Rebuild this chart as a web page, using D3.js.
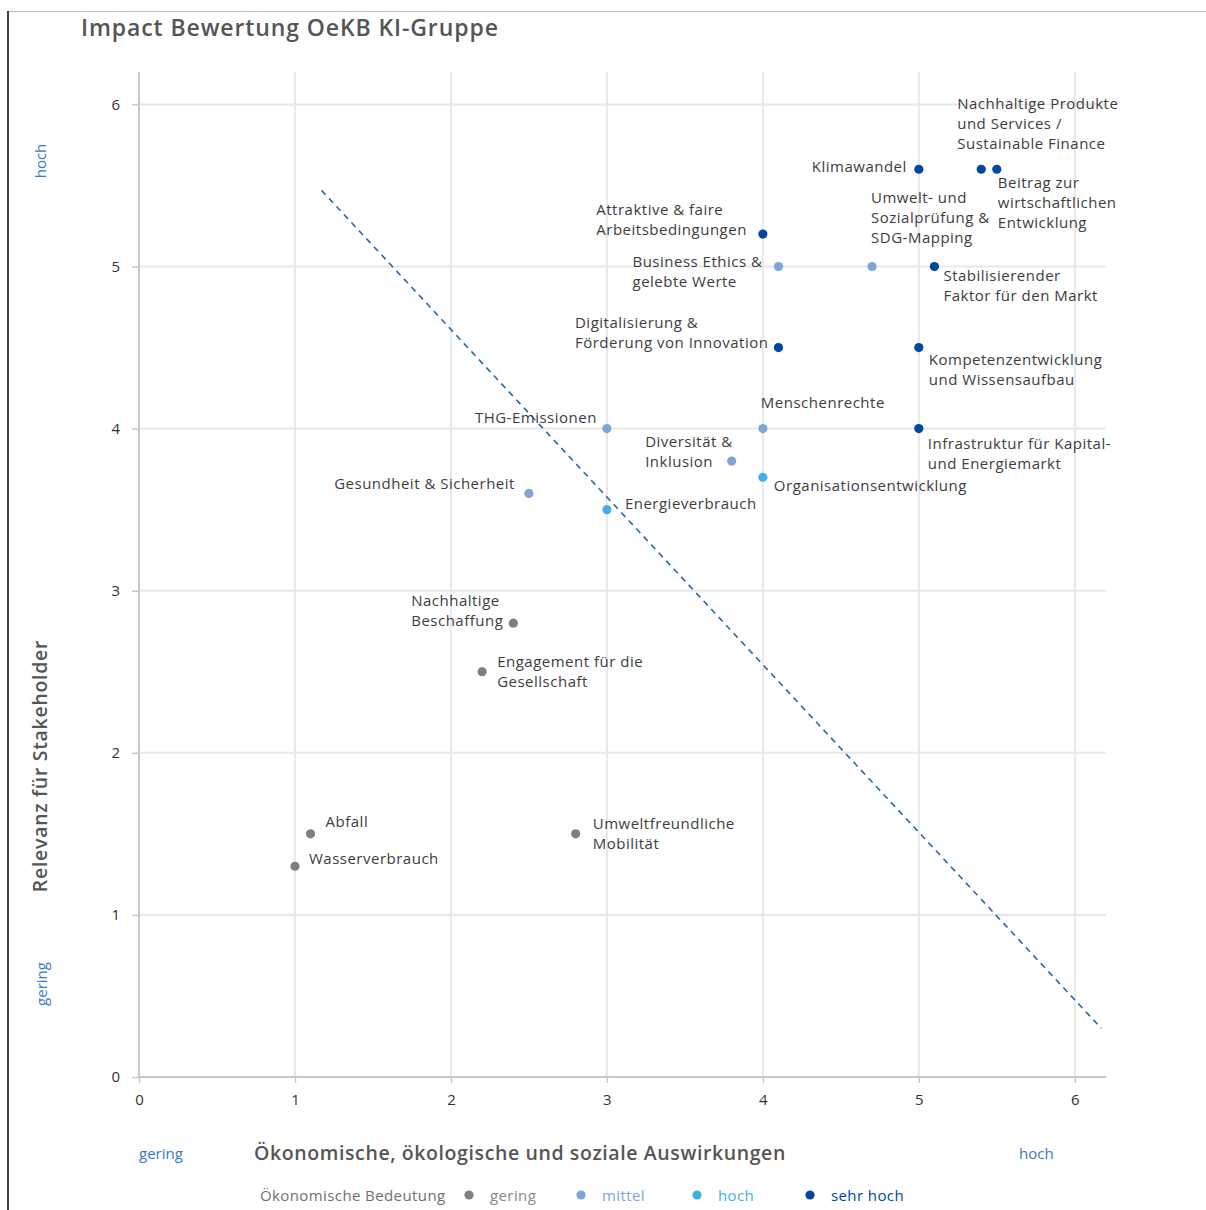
<!DOCTYPE html>
<html>
<head>
<meta charset="utf-8">
<script src="https://cdn.jsdelivr.net/npm/d3@7"></script>
<style>
  html, body { margin: 0; padding: 0; background: #fff; }
  svg { display: block; font-family: "Open Sans", sans-serif; }
</style>
</head>
<body>
<svg id="chart" width="1206" height="1210"></svg>
<script>
// Themen der Wesentlichkeitsanalyse
const topics = [
  "Klimawandel",
  "Nachhaltige Produkte\nund Services /\nSustainable Finance",
  "Beitrag zur\nwirtschaftlichen\nEntwicklung",
  "Attraktive & faire\nArbeitsbedingungen",
  "Business Ethics &\ngelebte Werte",
  "Umwelt- und\nSozialprüfung &\nSDG-Mapping",
  "Stabilisierender\nFaktor für den Markt",
  "Digitalisierung &\nFörderung von Innovation",
  "Kompetenzentwicklung\nund Wissensaufbau",
  "THG-Emissionen",
  "Menschenrechte",
  "Infrastruktur für Kapital-\nund Energiemarkt",
  "Diversität &\nInklusion",
  "Organisationsentwicklung",
  "Gesundheit & Sicherheit",
  "Energieverbrauch",
  "Nachhaltige\nBeschaffung",
  "Engagement für die\nGesellschaft",
  "Abfall",
  "Wasserverbrauch",
  "Umweltfreundliche\nMobilität"
];
// Ökonomische, ökologische und soziale Auswirkungen
const impactValues = [5.0, 5.4, 5.5, 4.0, 4.1, 4.7, 5.1, 4.1, 5.0, 3.0, 4.0, 5.0, 3.8, 4.0, 2.5, 3.0, 2.4, 2.2, 1.1, 1.0, 2.8];
// Relevanz für Stakeholder
const relevanceValues = [5.6, 5.6, 5.6, 5.2, 5.0, 5.0, 5.0, 4.5, 4.5, 4.0, 4.0, 4.0, 3.8, 3.7, 3.6, 3.5, 2.8, 2.5, 1.5, 1.3, 1.5];
// Ökonomische Bedeutung
const significance = ["sehr hoch", "sehr hoch", "sehr hoch", "sehr hoch", "mittel", "mittel", "sehr hoch", "sehr hoch", "sehr hoch", "mittel", "mittel", "sehr hoch", "mittel", "hoch", "mittel", "hoch", "gering", "gering", "gering", "gering", "gering"];

const levels = ["gering", "mittel", "hoch", "sehr hoch"];
const axisTicks = [0, 1, 2, 3, 4, 5, 6];
// Wesentlichkeitsschwelle (Anfangs- und Endpunkt)
const thresholdX = [1.17, 6.17];
const thresholdY = [5.47, 0.3];

const levelColor = d3.scaleOrdinal()
  .domain(levels)
  .range(["#7f7f7f", "#7fa5d5", "#44afe4", "#00479e"]);

// Beschriftungslage je Thema: Seite der Textbox relativ zum Punkt,
// horizontaler Abstand, Grundlinie der ersten Zeile
const labelLayout = [
  { side: "left",  dx: -12, dy: 3 },
  { side: "right", dx: -24, dy: -60 },
  { side: "right", dx: 1,   dy: 19 },
  { side: "left",  dx: -16, dy: -19 },
  { side: "left",  dx: -16, dy: 0 },
  { side: "right", dx: -1,  dy: -64 },
  { side: "right", dx: 9,   dy: 14 },
  { side: "left",  dx: -10, dy: -20 },
  { side: "right", dx: 10,  dy: 17 },
  { side: "left",  dx: -10, dy: -6 },
  { side: "right", dx: -2,  dy: -21 },
  { side: "right", dx: 9,   dy: 20 },
  { side: "left",  dx: 1,   dy: -14 },
  { side: "right", dx: 11,  dy: 14 },
  { side: "left",  dx: -14, dy: -4 },
  { side: "right", dx: 18,  dy: -1 },
  { side: "left",  dx: -10, dy: -17 },
  { side: "right", dx: 15,  dy: -5 },
  { side: "right", dx: 15,  dy: -7 },
  { side: "right", dx: 14,  dy: -2 },
  { side: "right", dx: 17,  dy: -5 }
];

const points = topics.map((t, i) => ({
  name: t,
  x: impactValues[i],
  y: relevanceValues[i],
  level: significance[i],
  layout: labelLayout[i]
}));

const svg = d3.select("#chart");
const plot = { left: 139, right: 1106, top: 72, bottom: 1077 };

const x = d3.scaleLinear().domain([0, 6.2]).range([plot.left, plot.right]);
const y = d3.scaleLinear().domain([0, 6.2]).range([plot.bottom, plot.top]);

// Rahmen
svg.append("line").attr("x1", 8).attr("x2", 1206).attr("y1", 11.5).attr("y2", 11.5)
  .attr("stroke", "#bdbdbd").attr("stroke-width", 1.2);
svg.append("line").attr("x1", 8).attr("x2", 8).attr("y1", 11).attr("y2", 1210)
  .attr("stroke", "#111").attr("stroke-width", 1.6);

// Titel
svg.append("text")
  .attr("x", 81).attr("y", 36)
  .attr("font-size", 23).attr("font-weight", 600).attr("fill", "#555")
  .attr("letter-spacing", 0.9)
  .text("Impact Bewertung OeKB KI-Gruppe");

// Gitternetz
const grid = svg.append("g");
grid.selectAll("line.v").data(axisTicks.filter(d => d > 0)).join("line")
  .attr("x1", d => x(d)).attr("x2", d => x(d))
  .attr("y1", plot.top).attr("y2", plot.bottom)
  .attr("stroke", "#e8e8e8").attr("stroke-width", 2);
grid.selectAll("line.h").data(axisTicks.filter(d => d > 0)).join("line")
  .attr("x1", plot.left).attr("x2", plot.right)
  .attr("y1", d => y(d)).attr("y2", d => y(d))
  .attr("stroke", "#e8e8e8").attr("stroke-width", 2);

// Achsen
const xAxis = svg.append("g")
  .attr("transform", `translate(0,${plot.bottom})`)
  .call(d3.axisBottom(x).tickValues(axisTicks).tickSize(6).tickPadding(11).tickFormat(d3.format("d")));
const yAxis = svg.append("g")
  .attr("transform", `translate(${plot.left},0)`)
  .call(d3.axisLeft(y).tickValues(axisTicks).tickSize(7).tickPadding(12).tickFormat(d3.format("d")));
[xAxis, yAxis].forEach(a => {
  a.select(".domain").attr("stroke", "#c8c8c8").attr("stroke-width", 2);
  a.selectAll(".tick line").attr("stroke", "#c8c8c8").attr("stroke-width", 1.5);
  a.selectAll(".tick text").attr("fill", "#333").attr("font-size", 15)
    .attr("font-family", "'Open Sans', sans-serif");
});
yAxis.select(".domain").attr("d", `M0,${plot.bottom}V${plot.top}`);
xAxis.select(".domain").attr("d", `M${plot.left},0H${plot.right}`);

// Wesentlichkeitsschwelle
svg.append("path")
  .datum(thresholdX.map((v, i) => [v, thresholdY[i]]))
  .attr("d", d3.line().x(d => x(d[0])).y(d => y(d[1])))
  .attr("fill", "none").attr("stroke", "#2a66ad").attr("stroke-width", 1.6)
  .attr("stroke-dasharray", "6,5");

// Punkte
svg.append("g").selectAll("circle").data(points).join("circle")
  .attr("cx", d => x(d.x)).attr("cy", d => y(d.y)).attr("r", 4.6)
  .attr("fill", d => levelColor(d.level));

// Beschriftungen
const labels = svg.append("g").attr("font-size", 15).attr("fill", "#3d3d3d")
  .attr("letter-spacing", 0.5);
points.forEach(p => {
  const px = x(p.x), py = y(p.y);
  const lines = p.name.split("\n");
  const t = labels.append("text").attr("y", py + p.layout.dy);
  lines.forEach((ln, i) => {
    t.append("tspan").attr("x", 0).attr("dy", i === 0 ? 0 : 20).text(ln);
  });
  const w = t.node().getBBox().width;
  const startX = p.layout.side === "left" ? px + p.layout.dx - w : px + p.layout.dx;
  t.selectAll("tspan").attr("x", startX);
});

// Achsentitel
svg.append("text")
  .attr("transform", "translate(47,766) rotate(-90)")
  .attr("text-anchor", "middle")
  .attr("font-size", 19.5).attr("font-weight", 600).attr("fill", "#555")
  .attr("letter-spacing", 0.7)
  .text("Relevanz für Stakeholder");
svg.append("text")
  .attr("x", 520).attr("y", 1160).attr("text-anchor", "middle")
  .attr("font-size", 19.5).attr("font-weight", 600).attr("fill", "#555")
  .attr("letter-spacing", 0.6)
  .text("Ökonomische, ökologische und soziale Auswirkungen");

// Skalenenden
const scaleEnd = "#3a78c4";
svg.append("text").attr("transform", "translate(46,161) rotate(-90)")
  .attr("text-anchor", "middle").attr("font-size", 15).attr("fill", scaleEnd).text("hoch");
svg.append("text").attr("transform", "translate(47,984) rotate(-90)")
  .attr("text-anchor", "middle").attr("font-size", 15).attr("fill", scaleEnd).text("gering");
svg.append("text").attr("x", 139).attr("y", 1159)
  .attr("font-size", 15).attr("fill", scaleEnd).text("gering");
svg.append("text").attr("x", 1019).attr("y", 1159)
  .attr("font-size", 15).attr("fill", scaleEnd).text("hoch");

// Legende
const legend = svg.append("g").attr("font-size", 15).attr("letter-spacing", 0.4);
legend.append("text").attr("x", 260).attr("y", 1201).attr("fill", "#707070")
  .text("Ökonomische Bedeutung");
const legendOffsets = { "gering": 469, "mittel": 581, "hoch": 697, "sehr hoch": 810 };
levels.forEach(l => {
  const cx = legendOffsets[l];
  legend.append("circle").attr("cx", cx).attr("cy", 1195).attr("r", 4.6).attr("fill", levelColor(l));
  legend.append("text").attr("x", cx + 21).attr("y", 1201)
    .attr("fill", l === "gering" ? "#8a8a8a" : levelColor(l)).text(l);
});
</script>
</body>
</html>
